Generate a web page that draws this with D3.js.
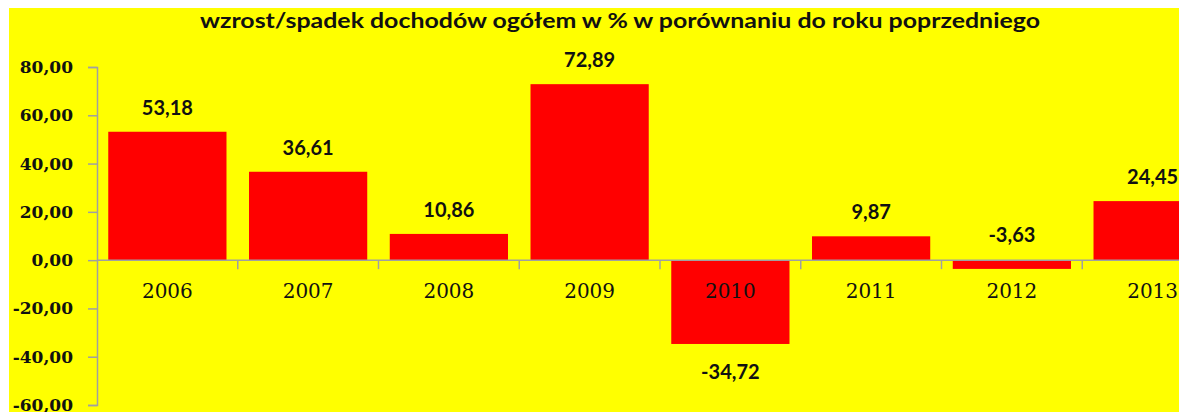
<!DOCTYPE html>
<html>
<head>
<meta charset="utf-8">
<script src="https://cdn.jsdelivr.net/npm/d3@7"></script>
<style>
  html, body { margin: 0; padding: 0; background: #fff; }
  svg { display: block; }
</style>
</head>
<body>
<div id="chart"></div>
<script>
var years = ["2006", "2007", "2008", "2009", "2010", "2011", "2012", "2013"];
var values = [53.18, 36.61, 10.86, 72.89, -34.72, 9.87, -3.63, 24.45];
var yTicks = [80, 60, 40, 20, 0, -20, -40, -60];
var title = "wzrost/spadek dochodów ogółem w % w porównaniu do roku poprzedniego";

var width = 1184, height = 412;
var fmt = function(v) { return v.toFixed(2).replace(".", ","); };

var svg = d3.select("#chart").append("svg")
	.attr("width", width)
	.attr("height", height);

// yellow chart area, the right part of the plot is cut off by the frame
svg.append("clipPath").attr("id", "frame")
	.append("rect").attr("x", 9).attr("y", 8).attr("width", 1170).attr("height", height);

var g = svg.append("g").attr("clip-path", "url(#frame)");

g.append("rect")
	.attr("x", 9).attr("y", 8)
	.attr("width", 1170).attr("height", height)
	.attr("fill", "#ffff00");

var x = d3.scaleBand().domain(years).range([97, 1223]).paddingInner(0.16).paddingOuter(0.08);
var y = d3.scaleLinear().domain([-60, 80]).range([405, 67]);

// the picture is stretched sideways, so the title is stretched too
g.append("text")
	.attr("x", 200).attr("y", 27.5)
	.attr("textLength", 840)
	.attr("lengthAdjust", "spacingAndGlyphs")
	.style("font-family", "Lato")
	.style("font-weight", "bold")
	.style("font-size", "20px")
	.attr("fill", "#111")
	.text(title);

// bars
g.append("g").selectAll("rect")
	.data(values)
	.enter().append("rect")
	.attr("x", (d, i) => x(years[i]))
	.attr("width", x.bandwidth())
	.attr("y", d => y(Math.max(0, d)))
	.attr("height", d => Math.abs(y(d) - y(0)))
	.attr("fill", "#ff0000");

// y axis
var yAxis = g.append("g")
	.attr("transform", "translate(97,0)")
	.call(d3.axisLeft(y).tickValues(yTicks).tickSize(9).tickPadding(15).tickFormat(fmt));
yAxis.select(".domain").attr("stroke", "#a0a0a0").attr("stroke-width", 1.5);
yAxis.selectAll(".tick line").attr("stroke", "#a0a0a0").attr("stroke-width", 1.5);
yAxis.selectAll(".tick text")
	.style("font-family", "DejaVu Serif")
	.style("font-weight", "bold")
	.style("font-size", "17px")
	.attr("fill", "#111");

// x axis on the zero line
var xTickPos = years.map((d, i) => 97 + i * (1223 - 97) / years.length);
var xAxis = g.append("g")
	.attr("transform", "translate(0," + y(0) + ")");
xAxis.append("line")
	.attr("x1", 97).attr("x2", 1223)
	.attr("stroke", "#a0a0a0").attr("stroke-width", 1.5);
xAxis.selectAll(".xt")
	.data(xTickPos.slice(1))
	.enter().append("line")
	.attr("x1", d => d).attr("x2", d => d)
	.attr("y1", 0).attr("y2", 9)
	.attr("stroke", "#a0a0a0").attr("stroke-width", 1.5);
xAxis.selectAll("text")
	.data(years)
	.enter().append("text")
	.attr("x", d => x(d) + x.bandwidth() / 2)
	.attr("y", 38)
	.attr("text-anchor", "middle")
	.style("font-family", "DejaVu Serif")
	.style("font-size", "20px")
	.attr("fill", "#111")
	.text(d => d);

// value labels
g.append("g").selectAll("text")
	.data(values)
	.enter().append("text")
	.attr("x", (d, i) => x(years[i]) + x.bandwidth() / 2)
	.attr("y", function(d) {
		if (d >= 0) return y(d) - 17;
		if (d > -10) return y(0) - 18;
		return y(d) + 35;
	})
	.attr("text-anchor", "middle")
	.style("font-family", "Lato")
	.style("font-weight", "bold")
	.style("font-size", "20px")
	.attr("fill", "#111")
	.text(fmt);
</script>
</body>
</html>
